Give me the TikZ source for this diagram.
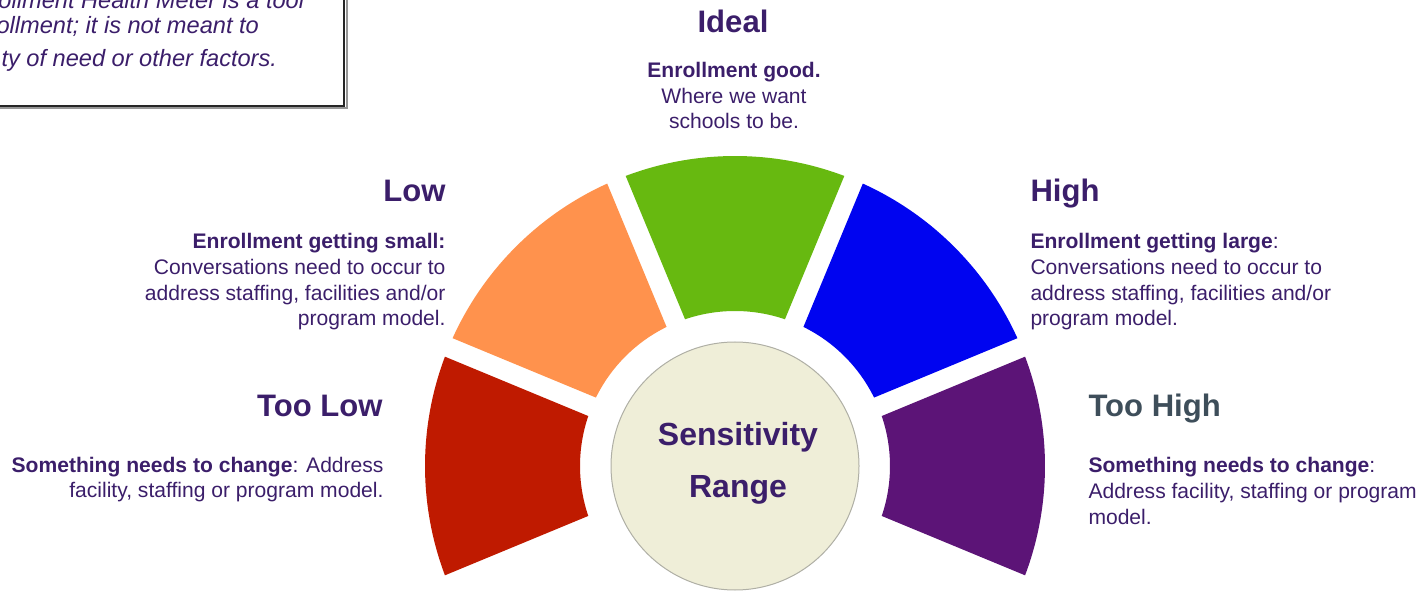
\documentclass[tikz,border=0pt]{standalone}
\usepackage{fontspec}
\setmainfont{Liberation Sans}
\definecolor{txtpurple}{RGB}{59,30,106}
\definecolor{txtslate}{RGB}{62,78,90}
\definecolor{segred}{RGB}{191,26,0}
\definecolor{segorange}{RGB}{255,146,77}
\definecolor{seggreen}{RGB}{103,185,16}
\definecolor{segblue}{RGB}{0,4,240}
\definecolor{segpurple}{RGB}{92,20,119}
\definecolor{circfill}{RGB}{239,238,216}
\definecolor{circedge}{RGB}{175,175,165}
\definecolor{boxshadow}{RGB}{150,150,150}

\tikzset{every picture/.style={line width=0.75pt}}

\begin{document}
\begin{tikzpicture}[x=0.75pt,y=0.75pt,yscale=-1,xscale=1,
	headtxt/.style={inner sep=0.75pt, text=txtpurple, font=\fontsize{23.3}{27}\selectfont\bfseries},
	bodytxt/.style={inner sep=0.75pt, text=txtpurple, font=\fontsize{15.8}{19.25}\selectfont},
	notetxt/.style={inner sep=0.75pt, text=txtpurple, font=\fontsize{17.7}{24}\selectfont\itshape}]
			\useasboundingbox (0,0) rectangle (1425,591);
			\clip (0,0) rectangle (1425,591);
			
			%Shape: Rectangle [note box, cut by the page edge] 
			\draw  [color=boxshadow, line width=1.5]  (-20,-20) rectangle (346.5,108.5) ;
			\draw  [color=black!85, line width=1.2]  (-20,-20) rectangle (344,106) ;
			
			\begin{scope}[shift={(735,466)}, yscale=-1]
			%Shape: Block Arc [too low] 
			\fill  [color=segred]  (159.35:310) arc [start angle=159.35, end angle=200.65, radius=310] -- (198.8:155) arc [start angle=198.8, end angle=161.2, radius=155] -- cycle ;
			%Shape: Block Arc [low] 
			\fill  [color=segorange]  (114.35:310) arc [start angle=114.35, end angle=155.65, radius=310] -- (153.8:155) arc [start angle=153.8, end angle=116.2, radius=155] -- cycle ;
			%Shape: Block Arc [ideal] 
			\fill  [color=seggreen]  (69.35:310) arc [start angle=69.35, end angle=110.65, radius=310] -- (108.8:155) arc [start angle=108.8, end angle=71.2, radius=155] -- cycle ;
			%Shape: Block Arc [high] 
			\fill  [color=segblue]  (24.35:310) arc [start angle=24.35, end angle=65.65, radius=310] -- (63.8:155) arc [start angle=63.8, end angle=26.2, radius=155] -- cycle ;
			%Shape: Block Arc [too high] 
			\fill  [color=segpurple]  (-20.65:310) arc [start angle=-20.65, end angle=20.65, radius=310] -- (18.8:155) arc [start angle=18.8, end angle=-18.8, radius=155] -- cycle ;
			\end{scope}
			
			%Shape: Circle [id:centre] 
			\draw  [color=circedge, fill=circfill]  (735,466) circle (124) ;
			
			
			\draw (738,498) node [anchor=base][headtxt, font=\fontsize{24}{39.75}\selectfont\bfseries][align=center] (sens) {Sensitivity\\Range};
			
			\draw (733,33) node [anchor=base][headtxt] (ideal) {Ideal};
			
			\draw (734,129) node [anchor=base][bodytxt][align=center] (idealtxt) {\textbf{Enrollment good.}\\Where we want\\schools to be.};
			
			\draw (447,202) node [anchor=base east][headtxt] (low) {Low};
			
			\draw (447,326) node [anchor=base east][bodytxt][align=right] (lowtxt) {\textbf{Enrollment getting small:}\\Conversations need to occur to\\address staffing, facilities and/or\\program model.};
			
			\draw (1029,202) node [anchor=base west][headtxt] (high) {High};
			
			\draw (1029,326) node [anchor=base west][bodytxt][align=left] (hightxt) {\textbf{Enrollment getting large}:\\Conversations need to occur to\\address staffing, facilities and/or\\program model.};
			
			\draw (384,417) node [anchor=base east][headtxt] (toolow) {Too Low};
			
			\draw (385,498) node [anchor=base east][bodytxt][align=right] (toolowtxt) {\textbf{Something needs to change}: Address\\facility, staffing or program model.};
			
			\draw (1087,417) node [anchor=base west][headtxt, text=txtslate] (toohigh) {Too High};
			
			\draw (1087,524) node [anchor=base west][bodytxt][align=left] (toohightxt) {\textbf{Something needs to change}:\\Address facility, staffing or program\\model.};
			
			\draw (-3,9) node [anchor=base west][notetxt] (note1) {ollment Health Meter is a tool};
			
			\draw (-5,34) node [anchor=base west][notetxt] (note2) {ollment; it is not meant to};
			
			\draw (0,67) node [anchor=base west][notetxt] (note3) {ty of need or other factors.};
			
			
		\end{tikzpicture}
\end{document}
